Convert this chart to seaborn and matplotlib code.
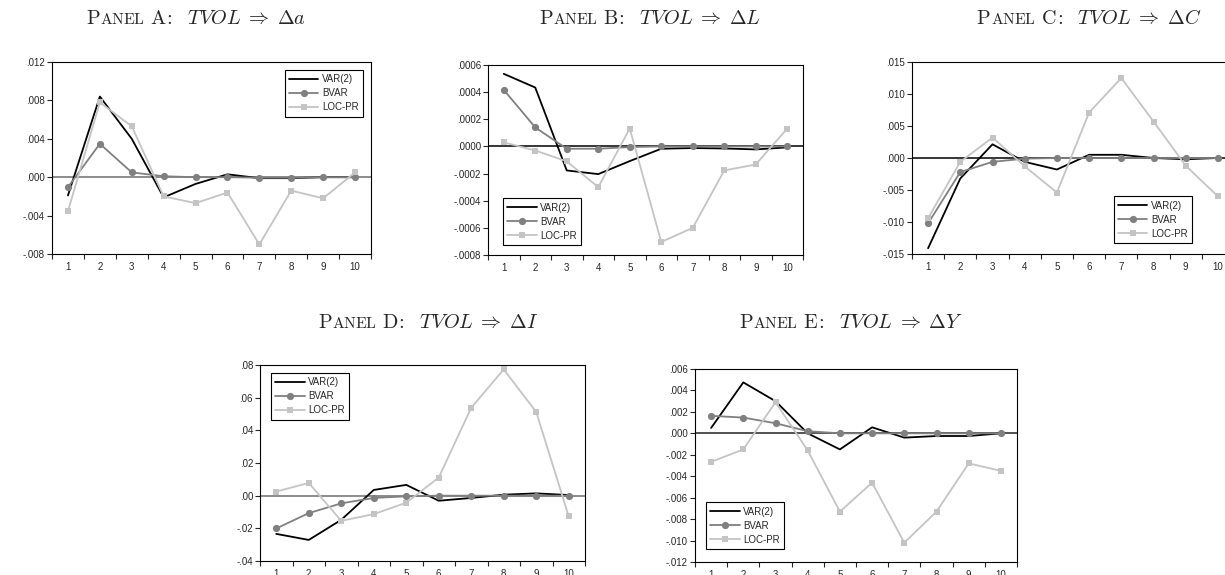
import numpy as np
import pandas as pd
import matplotlib
matplotlib.use("Agg")
import matplotlib.pyplot as plt
import seaborn as sns
from matplotlib.offsetbox import TextArea, HPacker, AnnotationBbox
from matplotlib.ticker import FixedLocator, NullFormatter

# ---------------------------------------------------------------------------
# Impulse responses of TVOL shocks, horizons 1..10
# ---------------------------------------------------------------------------
horizon = [1, 2, 3, 4, 5, 6, 7, 8, 9, 10]
series_names = ["VAR(2)", "BVAR", "LOC-PR"]

a_var = [-0.0019, 0.0084, 0.0040, -0.0021, -0.0007, 0.0003, -0.0001, -0.0001, 0.0000, 0.0000]
a_bvar = [-0.00104, 0.00348, 0.0005, 0.0001, 0.0000, 0.0000, -0.00005, -0.00005, 0.0000, 0.0000]
a_loc = [-0.00355, 0.0078, 0.0053, -0.0020, -0.0027, -0.0016, -0.0070, -0.0014, -0.0022, 0.0005]

b_var = [0.000535, 0.000434, -0.000177, -0.000204, -0.000108, -0.000017, -0.000012, -0.000015, -0.000022, -0.000007]
b_bvar = [0.000417, 0.00014, -0.000017, -0.000017, -0.000005, 0.0, 0.0, 0.0, 0.0, 0.0]
b_loc = [0.00003, -0.00003, -0.00011, -0.00030, 0.000132, -0.000704, -0.00060, -0.000177, -0.000133, 0.000132]

c_var = [-0.0141, -0.0032, 0.00214, -0.0006, -0.0018, 0.0005, 0.0005, 0.0000, -0.0002, 0.0000]
c_bvar = [-0.0102, -0.0022, -0.0006, -0.0001, 0.0, 0.0, 0.0, 0.0, 0.0, 0.0]
c_loc = [-0.0094, -0.0006, 0.0032, -0.0013, -0.0054, 0.0071, 0.0125, 0.0057, -0.0012, -0.0060]

d_var = [-0.0234, -0.0271, -0.0148, 0.0035, 0.0066, -0.0031, -0.0014, 0.0006, 0.0014, 0.0004]
d_bvar = [-0.0201, -0.0107, -0.0047, -0.0014, -0.0004, 0.0, 0.0, 0.0, 0.0, 0.0]
d_loc = [0.0025, 0.0078, -0.0154, -0.0113, -0.0043, 0.0111, 0.0539, 0.0773, 0.0512, -0.0127]

e_var = [0.0005, 0.00475, 0.0030, 0.0000, -0.0015, 0.00056, -0.0004, -0.00025, -0.00025, 0.0000]
e_bvar = [0.00163, 0.00147, 0.00094, 0.0002, 0.0, 0.0, 0.0, 0.0, 0.0, 0.0]
e_loc = [-0.00266, -0.0015, 0.0029, -0.0016, -0.0073, -0.0046, -0.0102, -0.0073, -0.0028, -0.0035]

# y tick values and their printed labels
a_yticks = [-0.008, -0.004, 0.000, 0.004, 0.008, 0.012]
a_ylabels = ["-.008", "-.004", ".000", ".004", ".008", ".012"]
b_yticks = [-0.0008, -0.0006, -0.0004, -0.0002, 0.0, 0.0002, 0.0004, 0.0006]
b_ylabels = ["-.0008", "-.0006", "-.0004", "-.0002", ".0000", ".0002", ".0004", ".0006"]
c_yticks = [-0.015, -0.010, -0.005, 0.000, 0.005, 0.010, 0.015]
c_ylabels = ["-.015", "-.010", "-.005", ".000", ".005", ".010", ".015"]
d_yticks = [-0.04, -0.02, 0.00, 0.02, 0.04, 0.06, 0.08]
d_ylabels = ["-.04", "-.02", ".00", ".02", ".04", ".06", ".08"]
e_yticks = [-0.012, -0.010, -0.008, -0.006, -0.004, -0.002, 0.000, 0.002, 0.004, 0.006]
e_ylabels = ["-.012", "-.010", "-.008", "-.006", "-.004", "-.002", ".000", ".002", ".004", ".006"]

# ---------------------------------------------------------------------------
sns.set_style("ticks")
plt.rcParams["font.family"] = ["Liberation Sans", "DejaVu Sans"]
plt.rcParams["mathtext.fontset"] = "cm"
plt.rcParams["axes.linewidth"] = 0.8

W, H = 1225, 575
fig = plt.figure(figsize=(W / 100, H / 100), dpi=100)
fig.patch.set_facecolor("white")

STYLE = {
    "VAR(2)": dict(color="#000000", marker=None, markersize=0, linewidth=1.3),
    "BVAR": dict(color="#808080", marker="o", markersize=5.2, linewidth=1.3),
    "LOC-PR": dict(color="#c4c4c4", marker="s", markersize=4.2, linewidth=1.3),
}


def px_axes(left, top, right, bottom):
    return fig.add_axes([left / W, 1 - bottom / H, (right - left) / W, (bottom - top) / H])


def panel_title(cx, cy, letter, target):
    big, small = 14.5, 11.2
    parts = [
        TextArea(r"$\mathrm{P}$", textprops=dict(fontsize=big)),
        TextArea(r"$\mathrm{ANEL}$", textprops=dict(fontsize=small)),
        TextArea(r"$\mathrm{\ %s\!{:}}\ \ TVOL \;\Rightarrow\; \Delta %s$" % (letter, target),
                 textprops=dict(fontsize=big)),
    ]
    box = HPacker(children=parts, align="baseline", pad=0, sep=0)
    ab = AnnotationBbox(box, (cx / W, 1 - cy / H), xycoords="figure fraction",
                        frameon=False, box_alignment=(0.5, 0.5))
    fig.add_artist(ab)


def draw_panel(ax, values, yticks, ylabels, zero_color, legend_loc, legend_anchor):
    ax.axhline(0, color=zero_color, linewidth=1.1, zorder=1)
    for name, vals in zip(series_names, values):
        st = STYLE[name]
        df = pd.DataFrame({"h": horizon, "v": vals})
        kw = dict(color=st["color"], linewidth=st["linewidth"], label=name, zorder=3)
        if st["marker"]:
            kw.update(marker=st["marker"], markersize=st["markersize"],
                      markeredgewidth=0, markerfacecolor=st["color"])
        sns.lineplot(data=df, x="h", y="v", ax=ax, **kw)
    ax.set_xlim(0.5, 10.5)
    ax.set_ylim(yticks[0], yticks[-1])
    ax.set_yticks(yticks)
    ax.set_yticklabels(ylabels)
    ax.set_xticks(horizon)
    ax.set_xticklabels([str(h) for h in horizon])
    ax.xaxis.set_minor_locator(FixedLocator([h + 0.5 for h in [0] + horizon]))
    ax.xaxis.set_minor_formatter(NullFormatter())
    ax.tick_params(axis="x", which="major", length=0, pad=6, labelsize=7)
    ax.tick_params(axis="x", which="minor", length=3.5, width=0.8, direction="out")
    ax.tick_params(axis="y", which="major", length=3.5, width=0.8, direction="out",
                   pad=1.5, labelsize=7)
    ax.set_xlabel("")
    ax.set_ylabel("")
    for s in ax.spines.values():
        s.set_visible(True)
        s.set_color("black")
        s.set_linewidth(0.8)
    leg = ax.legend(loc=legend_loc, bbox_to_anchor=(legend_anchor[0] / W, 1 - legend_anchor[1] / H),
                    bbox_transform=fig.transFigure, fontsize=7, frameon=True, fancybox=False,
                    edgecolor="black", framealpha=1, borderpad=0.45, labelspacing=0.4,
                    handlelength=3.0, handletextpad=0.4, borderaxespad=0)
    leg.get_frame().set_linewidth(0.8)


# Top row
ax_a = px_axes(52, 62, 371, 254)
draw_panel(ax_a, [a_var, a_bvar, a_loc], a_yticks, a_ylabels, "#6e6e6e",
           "upper right", (363, 70))
panel_title(196, 19, "A", "a")

ax_b = px_axes(488, 65, 803, 255)
draw_panel(ax_b, [b_var, b_bvar, b_loc], b_yticks, b_ylabels, "#000000",
           "lower left", (503, 245))
panel_title(650, 19, "B", "L")

ax_c = px_axes(912, 62, 1234, 254)
draw_panel(ax_c, [c_var, c_bvar, c_loc], c_yticks, c_ylabels, "#000000",
           "lower right", (1192, 243))
panel_title(1089, 19, "C", "C")

# Bottom row
ax_d = px_axes(260, 365, 585, 561)
draw_panel(ax_d, [d_var, d_bvar, d_loc], d_yticks, d_ylabels, "#6e6e6e",
           "upper left", (271, 373))
panel_title(428, 322, "D", "I")

ax_e = px_axes(695, 369, 1017, 562)
draw_panel(ax_e, [e_var, e_bvar, e_loc], e_yticks, e_ylabels, "#222222",
           "lower left", (706, 549))
panel_title(851, 322, "E", "Y")

fig.savefig("out.png", dpi=100)
